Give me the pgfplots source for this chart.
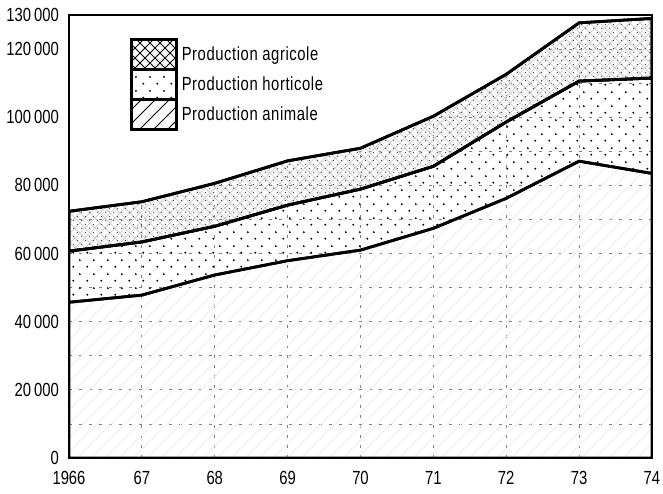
\documentclass[border=0pt]{standalone}
\usepackage{fontspec}
\setmainfont[FakeStretch=0.78]{Liberation Sans}
\usepackage{pgfplots}
\pgfplotsset{compat=1.18}
\usetikzlibrary{patterns}

\pgfdeclarepatternformonly{sparsedots}{\pgfqpoint{0pt}{0pt}}{\pgfqpoint{7pt}{7pt}}{\pgfqpoint{7pt}{7pt}}{%
 \pgfpathcircle{\pgfqpoint{1.75pt}{1.75pt}}{0.55pt}%
 \pgfpathcircle{\pgfqpoint{5.25pt}{5.25pt}}{0.55pt}%
 \pgfusepath{fill}}
\pgfdeclarepatternformonly{finedots}{\pgfqpoint{0pt}{0pt}}{\pgfqpoint{4pt}{4pt}}{\pgfqpoint{4pt}{4pt}}{%
 \pgfpathcircle{\pgfqpoint{1pt}{1pt}}{0.35pt}%
 \pgfpathcircle{\pgfqpoint{3pt}{3pt}}{0.35pt}%
 \pgfusepath{fill}}
\pgfdeclarepatternformonly{sparsecross}{\pgfqpoint{-0.5pt}{-0.5pt}}{\pgfqpoint{5.5pt}{5.5pt}}{\pgfqpoint{5pt}{5pt}}{%
 \pgfsetlinewidth{0.4pt}%
 \pgfpathmoveto{\pgfqpoint{0pt}{0pt}}\pgfpathlineto{\pgfqpoint{5.1pt}{5.1pt}}%
 \pgfpathmoveto{\pgfqpoint{0pt}{5pt}}\pgfpathlineto{\pgfqpoint{5.1pt}{-0.1pt}}%
 \pgfusepath{stroke}}
\pgfdeclarepatternformonly{sparsene}{\pgfqpoint{-0.5pt}{-0.5pt}}{\pgfqpoint{7.5pt}{7.5pt}}{\pgfqpoint{7pt}{7pt}}{%
 \pgfsetlinewidth{0.4pt}%
 \pgfpathmoveto{\pgfqpoint{0pt}{0pt}}\pgfpathlineto{\pgfqpoint{7.1pt}{7.1pt}}%
 \pgfusepath{stroke}}

\pgfplotsset{
  layers/mylayers/.define layer set={axis background,axis grid,pre main,main,axis ticks,axis lines,axis tick labels,axis descriptions,axis foreground}{
    grid style={/pgfplots/on layer=axis grid},
    tick style={/pgfplots/on layer=axis ticks},
    axis line style={/pgfplots/on layer=axis lines},
    label style={/pgfplots/on layer=axis descriptions},
    legend style={/pgfplots/on layer=axis descriptions},
    title style={/pgfplots/on layer=axis descriptions},
    ticklabel style={/pgfplots/on layer=axis tick labels},
    axis background@ style={/pgfplots/on layer=axis background},
    3d box foreground style={/pgfplots/on layer=axis foreground},
  },
}

\begin{document}
\begin{tikzpicture}
\begin{axis}[
  at={(34.5pt,17.5pt)}, anchor=south west,
  scale only axis, width=291.5pt, height=221.5pt,
  set layers=mylayers,
  xmin=1966, xmax=1974, ymin=0, ymax=130000,
  stack plots=y,
  xtick={1966,1967,1968,1969,1970,1971,1972,1973,1974},
  xticklabels={1966,67,68,69,70,71,72,73,74},
  ytick={0,20000,40000,60000,80000,100000,120000,130000},
  minor ytick={10000,30000,50000,70000,90000,110000},
  scaled y ticks=false,
  /pgf/number format/fixed,
  /pgf/number format/1000 sep={\,},
  /pgf/number format/assume math mode=true,
  grid=both,
  major grid style={dash pattern=on 1.5pt off 3.5pt, black!50, line width=0.4pt},
  minor grid style={dash pattern=on 1.5pt off 3.5pt, black!50, line width=0.4pt},
  major tick length=0pt, minor tick length=0pt,
  axis line style={line width=1pt},
  tick label style={font=\fontsize{9.5}{11}\selectfont},
  xticklabel style={yshift=-3pt},
  yticklabel style={xshift=-1.5pt},
  legend style={at={(axis description cs:0.1046,0.948)}, anchor=north west,
    draw=none, fill=none, inner sep=0pt, row sep=-1.2pt, column sep=2pt,
    nodes={inner sep=0pt, font=\fontsize{9.5}{11}\selectfont\addfontfeatures{LetterSpace=3}}},
  legend cell align=left,
]
\addlegendimage{legend image code/.code={\draw[pattern=sparsecross,line width=1.2pt] (0pt,-7.5pt) rectangle (22.5pt,7.5pt);}}
\addlegendimage{legend image code/.code={\draw[pattern=sparsedots,line width=1.2pt] (0pt,-7.5pt) rectangle (22.5pt,7.5pt);}}
\addlegendimage{legend image code/.code={\draw[pattern=sparsene,line width=1.2pt] (0pt,-7.5pt) rectangle (22.5pt,7.5pt);}}

% Production animale
\addplot[draw=black, line width=1.4pt, pattern=sparsene, pattern color=black!7] coordinates {
 (1966,45700) (1967,47800) (1968,53700) (1969,57900) (1970,61000)
 (1971,67400) (1972,76200) (1973,87100) (1974,83500)} \closedcycle;
% Production horticole
\addplot[draw=black, line width=1.4pt, pattern=sparsedots] coordinates {
 (1966,15000) (1967,15600) (1968,14300) (1969,16300) (1970,17900)
 (1971,18200) (1972,22400) (1973,23500) (1974,28000)} \closedcycle;
% Production agricole
\addplot[draw=black, line width=1.4pt, pattern=sparsecross, pattern color=black!18,
  postaction={pattern=finedots, pattern color=black!80}] coordinates {
 (1966,11700) (1967,11800) (1968,12600) (1969,13000) (1970,12000)
 (1971,14700) (1972,14000) (1973,17100) (1974,17500)} \closedcycle;
% blank space above the curves, up to the top of the frame
\addplot[draw=none, fill=white, on layer=pre main] coordinates {
 (1966,57600) (1967,54800) (1968,49400) (1969,42800) (1970,39100)
 (1971,29700) (1972,17400) (1973,2300) (1974,1000)} \closedcycle;

\legend{Production agricole, Production horticole, Production animale}
\end{axis}
\pgfresetboundingbox
\path[use as bounding box] (0,0) rectangle (331.5pt,246.5pt);
\end{tikzpicture}
\end{document}
